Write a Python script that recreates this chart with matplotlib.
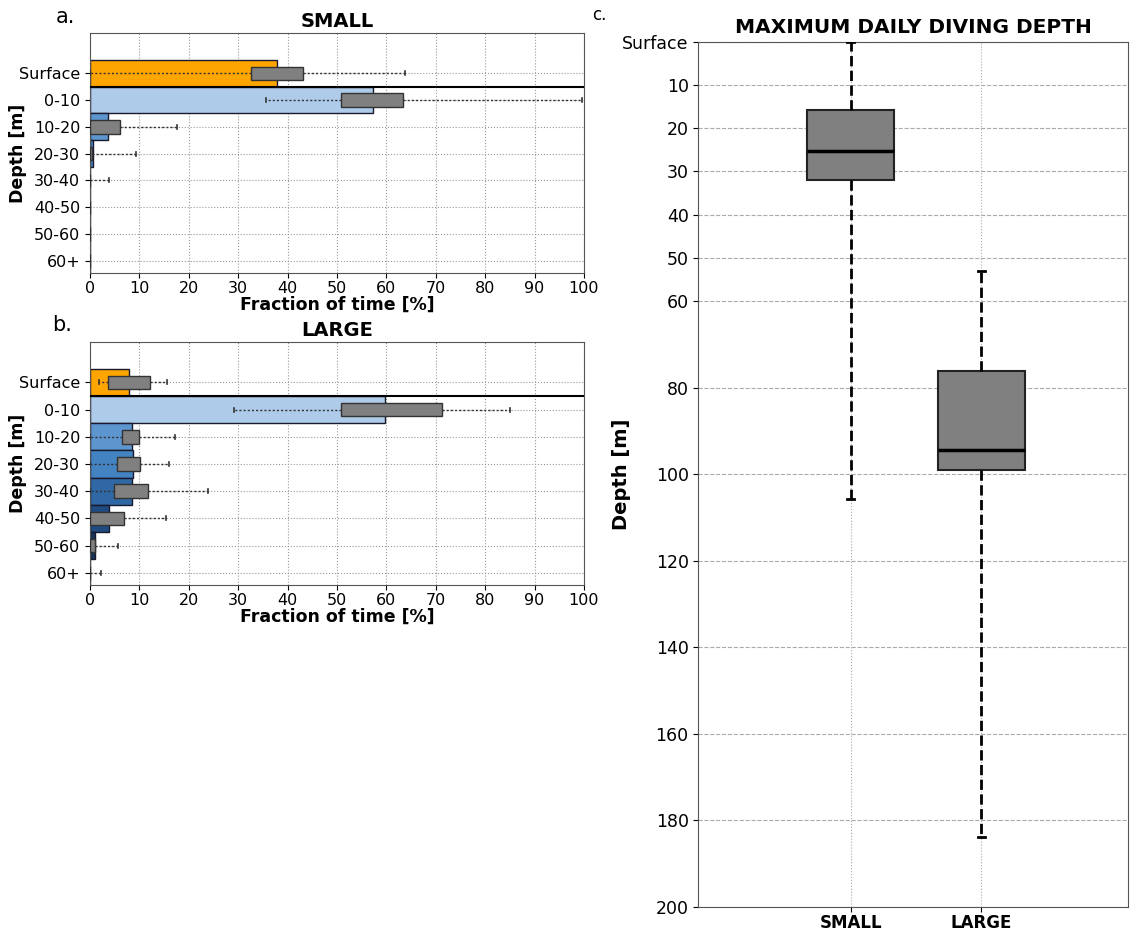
import matplotlib.pyplot as plt

# depth bins (fraction-of-time panels)
depth_bins = ['Surface', '0-10', '10-20', '20-30', '30-40', '40-50', '50-60', '60+']
bar_colors = ['#ffa500', '#aecbe9', '#5d95cf', '#4483c2', '#2f68a4', '#1f4b80', '#183556', '#12263d']

# mean fraction of time [%]
small_mean = [37.8, 57.3, 3.7, 0.6, 0.1, 0.0, 0.0, 0.0]
large_mean = [8.0, 59.7, 8.6, 8.8, 8.6, 3.9, 1.0, 0.0]

# box stats per bin: whisker low, q1, q3, whisker high
small_wlo = [0.0, 35.7, 0.0, 0.0, 0.0, 0.0, 0.0, 0.0]
small_q1 = [32.6, 50.8, 0.0, 0.0, 0.0, 0.0, 0.0, 0.0]
small_q3 = [43.1, 63.4, 6.0, 0.4, 0.0, 0.0, 0.0, 0.0]
small_whi = [63.8, 99.5, 17.7, 9.4, 3.8, 0.0, 0.0, 0.0]

large_wlo = [1.8, 29.2, 0.0, 0.0, 0.0, 0.0, 0.0, 0.0]
large_q1 = [3.7, 50.8, 6.4, 5.4, 4.9, 0.0, 0.0, 0.0]
large_q3 = [12.2, 71.2, 10.0, 10.2, 11.7, 6.8, 1.0, 0.0]
large_whi = [15.6, 85.0, 17.3, 16.1, 23.9, 15.4, 5.6, 2.3]

# maximum daily diving depth boxes
groups = ['SMALL', 'LARGE']
max_wlo = [0.0, 52.9]
max_q1 = [15.9, 76.1]
max_med = [25.3, 94.4]
max_q3 = [32.0, 99.1]
max_whi = [105.8, 183.9]
depth_ticks = [0, 10, 20, 30, 40, 50, 60, 80, 100, 120, 140, 160, 180, 200]


def frac_panel(ax, means, wlo, q1, q3, whi, title):
    pos = list(range(len(depth_bins)))
    ax.barh(pos, means, height=1.0, color=bar_colors, edgecolor='#1a1a2e', linewidth=1.0, zorder=2)
    stats = []
    for i in pos:
        stats.append({'whislo': wlo[i], 'q1': q1[i], 'med': q1[i], 'q3': q3[i], 'whishi': whi[i]})
    ax.bxp(stats, positions=pos, orientation='horizontal', widths=0.5, patch_artist=True,
           showfliers=False,
           boxprops=dict(facecolor='#808080', edgecolor='#333333', linewidth=1.0),
           whiskerprops=dict(color='#333333', linestyle=(0, (1.5, 1.5)), linewidth=1.0),
           capprops=dict(color='#333333', linewidth=1.2),
           medianprops=dict(visible=False), capwidths=0.15, zorder=3)
    ax.axhline(0.5, color='black', linewidth=1.5, zorder=4)
    ax.set_ylim(7.45, -1.5)
    ax.set_xlim(0, 100)
    ax.set_yticks(pos)
    ax.set_yticklabels(depth_bins)
    ax.set_xticks(range(0, 101, 10))
    ax.set_xticklabels([str(v) for v in range(0, 101, 10)])
    ax.tick_params(labelsize=11.5)
    ax.tick_params(axis='x', pad=2)
    ax.grid(True, linestyle=':', color='#999999', linewidth=0.8, zorder=0)
    ax.set_axisbelow(True)
    ax.set_title(title, fontsize=14, fontweight='bold', pad=4)
    ax.set_xlabel('Fraction of time [%]', fontsize=12.5, fontweight='bold', labelpad=0)
    ax.set_ylabel('Depth [m]', fontsize=12.5, fontweight='bold')
    ax.yaxis.set_label_coords(-0.128, 0.5)
    for s in ax.spines.values():
        s.set_color('#555555')


fig = plt.figure(figsize=(11.3, 9.32), dpi=100)

ax_a = fig.add_axes([0.0796, 0.7071, 0.4372, 0.2575])
frac_panel(ax_a, small_mean, small_wlo, small_q1, small_q3, small_whi, 'SMALL')

ax_b = fig.add_axes([0.0796, 0.3723, 0.4372, 0.2611])
frac_panel(ax_b, large_mean, large_wlo, large_q1, large_q3, large_whi, 'LARGE')

ax_c = fig.add_axes([0.6181, 0.0268, 0.3801, 0.9285])
stats_c = []
for i in range(len(groups)):
    stats_c.append({'whislo': max_wlo[i], 'q1': max_q1[i], 'med': max_med[i],
                    'q3': max_q3[i], 'whishi': max_whi[i], 'label': groups[i]})
ax_c.bxp(stats_c, positions=[1, 2], widths=0.667, patch_artist=True, showfliers=False,
         boxprops=dict(facecolor='#808080', edgecolor='#222222', linewidth=1.5),
         whiskerprops=dict(color='black', linestyle='--', linewidth=2),
         capprops=dict(color='black', linewidth=2),
         medianprops=dict(color='black', linewidth=2.5),
         capwidths=0.05, zorder=3)
ax_c.set_ylim(200, 0)
ax_c.set_xlim(-0.164, 3.12)
ax_c.set_yticks(depth_ticks)
ax_c.set_yticklabels(['Surface'] + [str(v) for v in depth_ticks[1:]])
ax_c.set_xticks([1, 2])
ax_c.set_xticklabels(groups, fontweight='bold')
ax_c.tick_params(labelsize=12.5)
ax_c.tick_params(axis='x', pad=1.5, labelsize=12)
ax_c.grid(True, axis='y', linestyle='--', color='#aaaaaa', linewidth=0.8)
ax_c.grid(True, axis='x', linestyle=':', color='#aaaaaa', linewidth=0.8)
ax_c.set_axisbelow(True)
ax_c.set_title('MAXIMUM DAILY DIVING DEPTH', fontsize=14.5, fontweight='bold', pad=6)
ax_c.set_ylabel('Depth [m]', fontsize=14, fontweight='bold')
ax_c.yaxis.set_label_coords(-0.157, 0.5)
for s in ax_c.spines.values():
    s.set_color('#555555')

fig.text(0.058, 0.982, 'a.', fontsize=15, ha='center', va='center')
fig.text(0.055, 0.651, 'b.', fontsize=15, ha='center', va='center')
fig.text(0.530, 0.984, 'c.', fontsize=12, ha='center', va='center')

fig.savefig('out.png', dpi=100)
